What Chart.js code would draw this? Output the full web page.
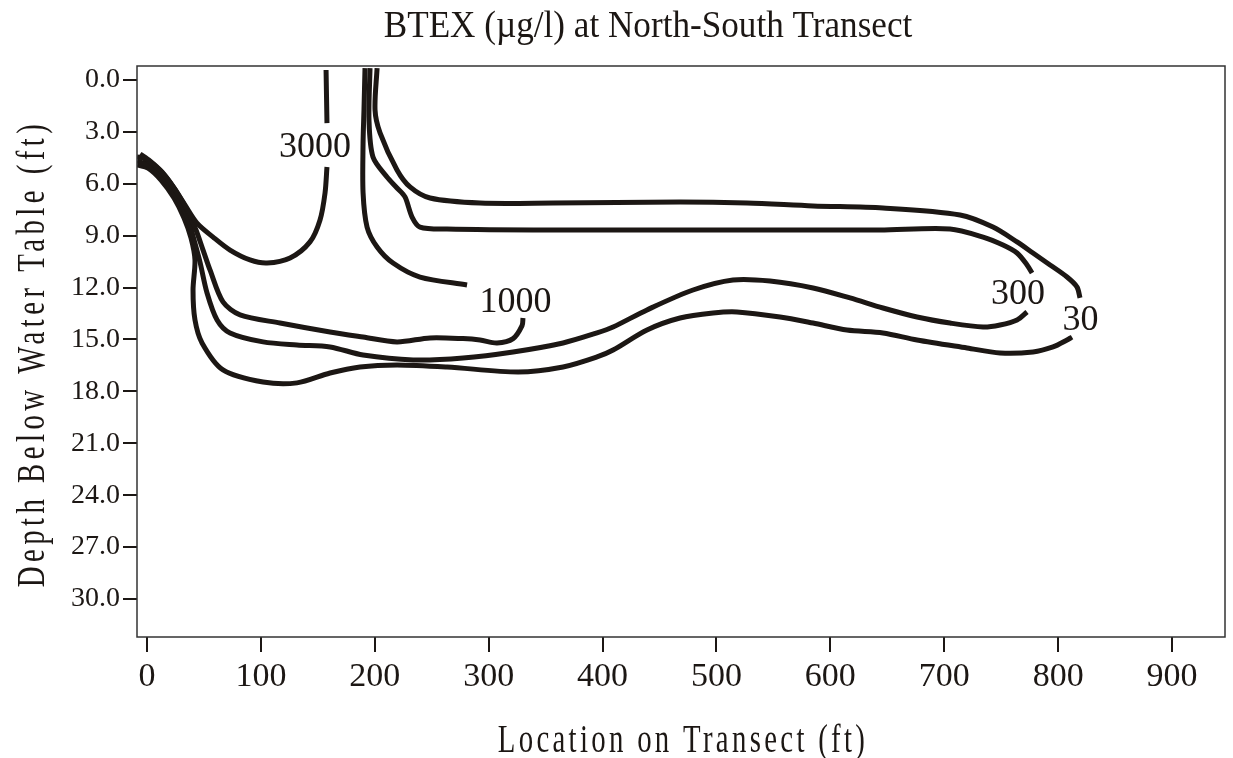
<!DOCTYPE html>
<html>
<head>
<meta charset="utf-8">
<title>BTEX at North-South Transect</title>
<script src="https://cdn.jsdelivr.net/npm/chart.js@4.4.1/dist/chart.umd.min.js"></script>
<style>
  body { margin: 0; background: #ffffff; }
  canvas { display: block; }
</style>
</head>
<body>
<canvas id="chart" width="1233" height="758"></canvas>
<script>
// axis ticks
const locationTicks = [0, 100, 200, 300, 400, 500, 600, 700, 800, 900];
const depthTicks = [0, 3, 6, 9, 12, 15, 18, 21, 24, 27, 30];

// contour lines (x = location ft, y = depth ft), null = label gap
const c3000X = [157.2, 158.0, null, 158.0, 156.3, 151.9, 143.1, 125.6, 105.4, 90.4, 72.9, 58.0, 43.9, 33.4, 23.7, 13.2, 2.6, -6.1];
const c3000Y = [-0.58, 2.49, null, 5.03, 6.53, 8.09, 9.36, 10.29, 10.58, 10.40, 9.83, 9.08, 8.27, 7.23, 6.24, 5.32, 4.68, 4.28];

const c1000X = [191.4, 190.5, 189.7, 189.7, 193.2, 202.0, 216.0, 239.7, 281.0, null,
  330.1, 329.3, 321.4, 307.3, 292.4, 277.5, 248.5, 219.5, 189.7, 160.7, 116.8, 81.7, 66.7,
  55.3, 49.2, 43.0, 36.0, 27.2, 16.7, 6.1, -3.5, -8.8];
const c1000Y = [-0.69, 1.73, 3.64, 6.53, 8.50, 9.65, 10.58, 11.39, 11.85, null,
  13.76, 14.20, 14.95, 15.20, 15.03, 14.95, 14.91, 15.14, 14.86, 14.57, 14.05, 13.58, 12.83,
  10.98, 9.83, 8.67, 7.63, 6.59, 5.61, 4.91, 4.51, 4.45];

const c300X = [195.8, 194.9, 198.4, 210.7, 219.5, 226.5, 232.7, 239.7, 263.4, 353.9, 485.6, 643.6,
  705.1, 734.1, 751.6, 763.9, 772.7, 777.1, null,
  772.7, 763.9, 749.0, 734.1, 705.1, 676.1, 646.2, 617.3, 584.8, 547.0, 514.5, 479.4, 439.0,
  409.2, 395.1, 365.3, 321.4, 277.5, 233.6, 189.7, 160.7, 131.7, 101.9, 72.9, 61.5, 52.7, 46.5,
  41.3, 36.9, 30.7, 22.0, 11.4, 0.9, -8.8];
const c300Y = [-0.69, 2.31, 4.45, 5.61, 6.24, 6.76, 7.92, 8.50, 8.61, 8.67, 8.67, 8.67,
  8.61, 9.08, 9.54, 10.00, 10.69, 11.16, null,
  13.41, 13.87, 14.16, 14.28, 14.05, 13.70, 13.18, 12.60, 12.02, 11.62, 11.56, 12.14, 13.29,
  14.28, 14.62, 15.20, 15.72, 16.07, 16.18, 15.90, 15.43, 15.32, 15.14, 14.62, 13.87, 12.31, 10.52,
  9.25, 8.21, 7.28, 6.36, 5.43, 4.91, 4.68];

const c30X = [202.0, 200.2, 204.6, 219.5, 230.9, 248.5, 292.4, 356.5, 468.0, 526.8, 584.8, 646.2,
  713.9, 742.8, 763.9, 777.9, 792.9, 807.8, 816.6, 819.2, null,
  812.2, 807.8, 795.5, 777.9, 749.0, 720.0, 676.1, 646.2, 614.6, 584.8, 555.8, 518.0, 497.0,
  468.0, 439.0, 409.2, 395.1, 365.3, 325.8, 263.4, 219.5, 187.0, 160.7, 131.7, 101.9,
  66.7, 48.3, 42.1, 40.4, 42.1, 38.6, 32.5, 23.7, 12.3, 0.9, -8.8];
const c30Y = [-0.69, 1.73, 3.06, 5.20, 6.18, 6.82, 7.11, 7.11, 7.05, 7.11, 7.28, 7.40,
  7.80, 8.50, 9.36, 10.00, 10.69, 11.39, 11.97, 12.60, null,
  14.86, 15.03, 15.43, 15.72, 15.78, 15.49, 15.03, 14.62, 14.45, 14.05, 13.70, 13.41, 13.47,
  13.76, 14.45, 15.61, 16.01, 16.59, 16.88, 16.59, 16.47, 16.59, 16.94, 17.51, 17.46,
  16.76, 15.20, 13.87, 12.14, 10.40, 9.13, 7.98, 6.82, 5.78, 5.09, 4.91];

// contour labels
const labelTexts = ["3000", "1000", "300", "30"];
const labelXs = [147.5, 323.6, 764.8, 819.7];
const labelYs = [3.90, 12.86, 12.43, 13.90];

const chartTitle = "BTEX (\u00b5g/l) at North-South Transect";
const xTitle = "Location on Transect (ft)";
const yTitle = "Depth Below Water Table (ft)";

const ink = "#1c1714";
const serif = "'Liberation Serif', 'Times New Roman', serif";

const toPoints = (xs, ys) => xs.map((x, i) => ({ x: x, y: ys[i] }));

const contour = (xs, ys) => ({
  data: toPoints(xs, ys),
  showLine: true,
  borderColor: ink,
  borderWidth: 5,
  pointRadius: 0,
  tension: 0.3,
  spanGaps: false,
  fill: false,
});

// box round the plot area
const frame = {
  id: "frame",
  afterDatasetsDraw(chart) {
    const { ctx, chartArea: a } = chart;
    ctx.save();
    ctx.strokeStyle = "#333";
    ctx.lineWidth = 1.5;
    ctx.strokeRect(a.left, a.top, a.right - a.left, a.bottom - a.top);
    ctx.restore();
  },
};

// "3000", "1000" ... on the lines
const contourLabels = {
  id: "contourLabels",
  afterDatasetsDraw(chart) {
    const { ctx, scales } = chart;
    ctx.save();
    ctx.fillStyle = ink;
    ctx.font = "36px " + serif;
    ctx.textAlign = "center";
    ctx.textBaseline = "middle";
    labelTexts.forEach((t, i) => {
      ctx.fillText(t, scales.x.getPixelForValue(labelXs[i]), scales.y.getPixelForValue(labelYs[i]));
    });
    ctx.restore();
  },
};

// title and spaced, narrow axis titles like the original
const titles = {
  id: "titles",
  afterDraw(chart) {
    const { ctx, chartArea: a } = chart;
    ctx.save();
    ctx.fillStyle = ink;
    ctx.textAlign = "center";
    ctx.textBaseline = "alphabetic";

    ctx.save();
    ctx.font = "38px " + serif;
    ctx.translate(648, 37);
    ctx.scale(0.925, 1);
    ctx.fillText(chartTitle, 0, 0);
    ctx.restore();

    ctx.font = "40px " + serif;

    ctx.save();
    ctx.letterSpacing = "4.6px";
    ctx.translate((a.left + a.right) / 2 + 2, 752);
    ctx.scale(0.72, 1);
    ctx.fillText(xTitle, 0, 0);
    ctx.restore();

    ctx.save();
    ctx.letterSpacing = "6.2px";
    ctx.translate(44, (a.top + a.bottom) / 2 + 2);
    ctx.rotate(-Math.PI / 2);
    ctx.scale(0.72, 1);
    ctx.fillText(yTitle, 0, 0);
    ctx.restore();

    ctx.restore();
  },
};

new Chart(document.getElementById("chart"), {
  type: "scatter",
  data: {
    datasets: [
      contour(c3000X, c3000Y),
      contour(c1000X, c1000Y),
      contour(c300X, c300Y),
      contour(c30X, c30Y),
    ],
  },
  options: {
    responsive: false,
    animation: false,
    layout: { padding: { left: 0, right: 8, top: 66, bottom: 0 } },
    plugins: {
      legend: { display: false },
      tooltip: { enabled: false },
      title: { display: false },
    },
    scales: {
      x: {
        type: "linear",
        min: -8.8,
        max: 946.5,
        afterBuildTicks: (scale) => {
          scale.ticks = locationTicks.map((v) => ({ value: v }));
        },
        afterFit: (scale) => {
          scale.height = 121;
        },
        border: { display: false },
        grid: { drawOnChartArea: false, drawTicks: true, tickLength: 15, color: ink, lineWidth: 2 },
        ticks: {
          color: ink,
          font: { family: serif, size: 34 },
          padding: 5,
          maxRotation: 0,
          autoSkip: false,
          callback: (v) => String(v),
        },
      },
      y: {
        type: "linear",
        reverse: true,
        min: -0.81,
        max: 32.2,
        afterBuildTicks: (scale) => {
          scale.ticks = depthTicks.map((v) => ({ value: v }));
        },
        afterFit: (scale) => {
          scale.width = 137;
        },
        border: { display: false },
        grid: { drawOnChartArea: false, drawTicks: true, tickLength: 14, color: ink, lineWidth: 2 },
        ticks: {
          color: ink,
          font: { family: serif, size: 28 },
          padding: 3,
          autoSkip: false,
          callback: (v) => v.toFixed(1),
        },
      },
    },
  },
  plugins: [frame, contourLabels, titles],
});
</script>
</body>
</html>
